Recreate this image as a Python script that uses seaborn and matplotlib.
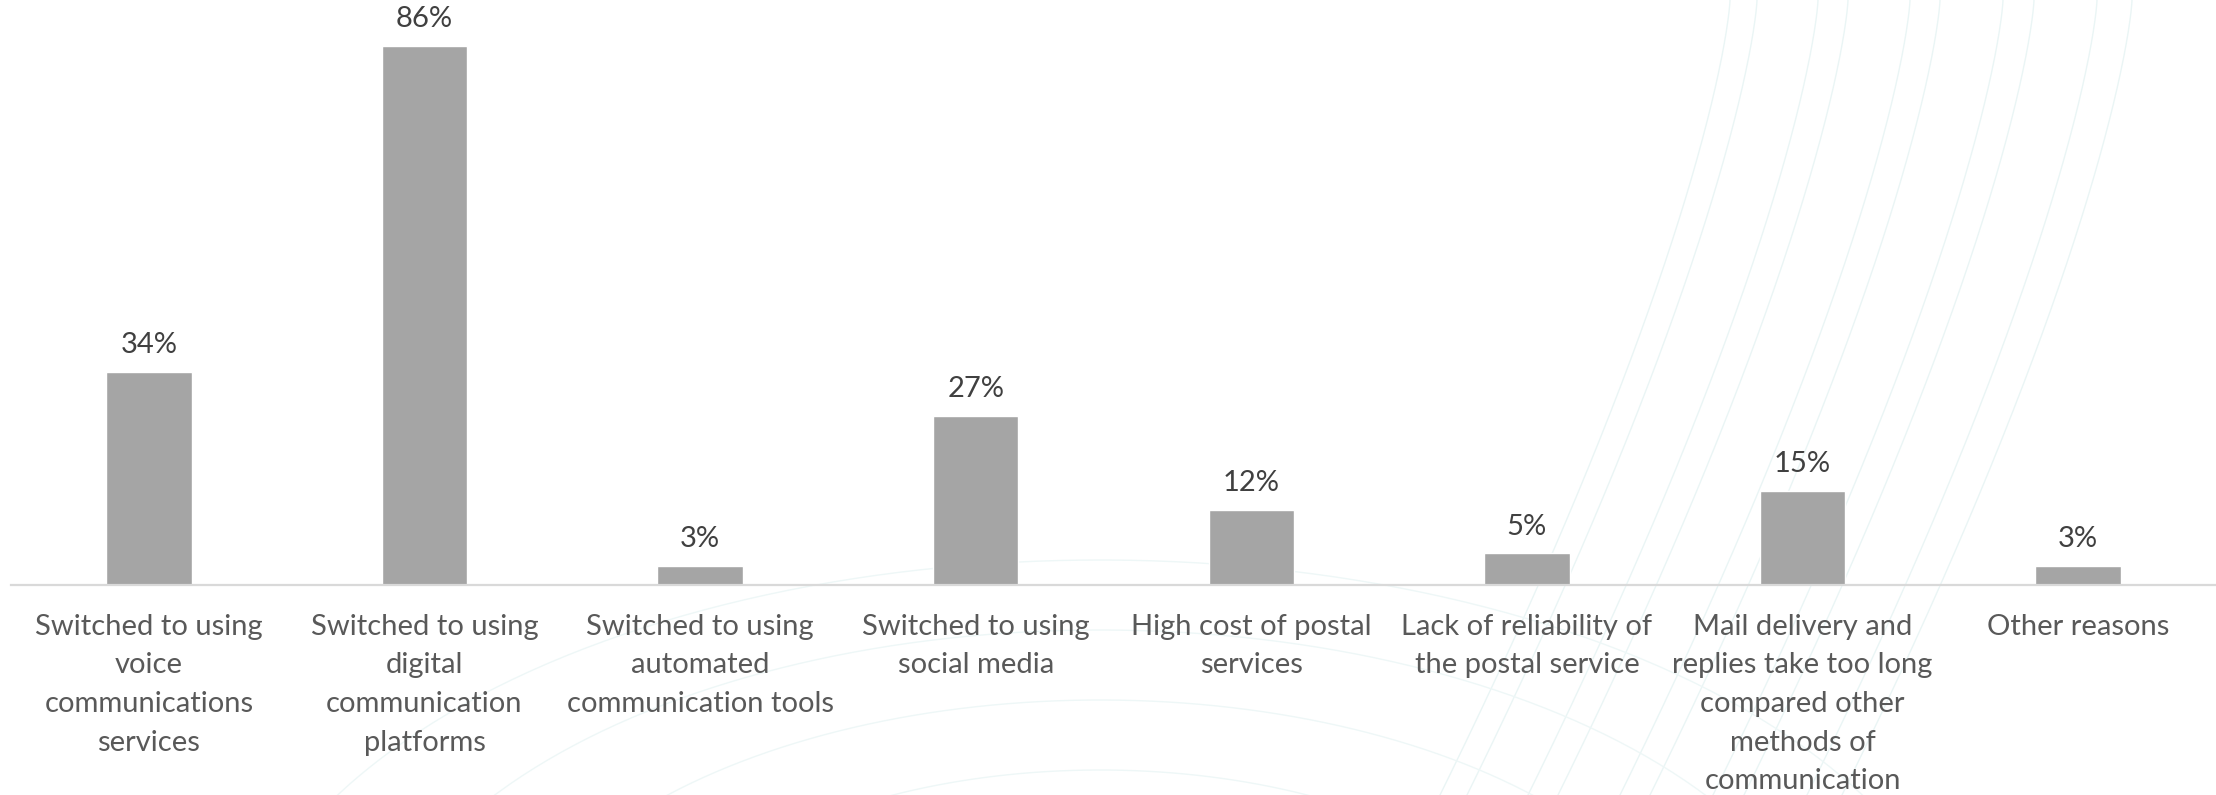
import numpy as np
import pandas as pd
import matplotlib
matplotlib.use("Agg")
import matplotlib.pyplot as plt
import seaborn as sns

categories = [
    "Switched to using\nvoice\ncommunications\nservices",
    "Switched to using\ndigital\ncommunication\nplatforms",
    "Switched to using\nautomated\ncommunication tools",
    "Switched to using\nsocial media",
    "High cost of postal\nservices",
    "Lack of reliability of\nthe postal service",
    "Mail delivery and\nreplies take too long\ncompared other\nmethods of\ncommunication",
    "Other reasons",
]
values = [34, 86, 3, 27, 12, 5, 15, 3]

sns.set_theme(style="white")
plt.rcParams["font.family"] = ["Lato", "DejaVu Sans"]

W, H = 2216, 795
fig = plt.figure(figsize=(W / 100, H / 100), dpi=100)
fig.patch.set_facecolor("white")

# faint decorative arcs in the background
bg = fig.add_axes([0, 0, 1, 1], zorder=0)
bg.set_xlim(0, W)
bg.set_ylim(H, 0)
bg.axis("off")
arc_color = "#eaf5f5"
yy = np.linspace(0, H, 200)
for xt in [1730, 1757, 1818, 1848, 1910, 1940, 2003, 2034, 2097, 2132]:
    xs = xt - 290 * (yy / H) ** 1.35
    bg.plot(xs, yy, color=arc_color, lw=1.0)
for r in [250, 320, 390, 460]:
    ang = np.linspace(np.pi * 0.08, np.pi * 0.92, 200)
    bg.plot(1100 + 1.9 * r * np.cos(ang), 1020 - r * np.sin(ang),
            color="#eef7f7", lw=1.0)

ax = fig.add_axes([11 / W, 1 - 584.7 / H, 1 - 11 / W, 584.7 / H], zorder=1)
ax.patch.set_alpha(0)

df = pd.DataFrame({"reason": categories, "share": values})
sns.barplot(data=df, x="reason", y="share", color="#A5A5A5", width=0.31,
            saturation=1, ax=ax)
ax.set_xlim(-0.5, len(categories) - 0.5)
ax.set_ylim(0, 93.4)

ax.bar_label(ax.containers[0], labels=[f"{v}%" for v in values],
             padding=10, fontsize=21, color="#404040")

for s in ["top", "left", "right"]:
    ax.spines[s].set_visible(False)
ax.spines["bottom"].set_color("#D9D9D9")
ax.spines["bottom"].set_linewidth(1.6)
ax.set_yticks([])
ax.set_xlabel("")
ax.set_ylabel("")
ax.tick_params(axis="x", length=0, pad=21, labelsize=21, labelcolor="#595959")
for lab in ax.get_xticklabels():
    lab.set_linespacing(1.6)
    lab.set_ha("center")

fig.savefig("out.png", dpi=100, facecolor="white")
